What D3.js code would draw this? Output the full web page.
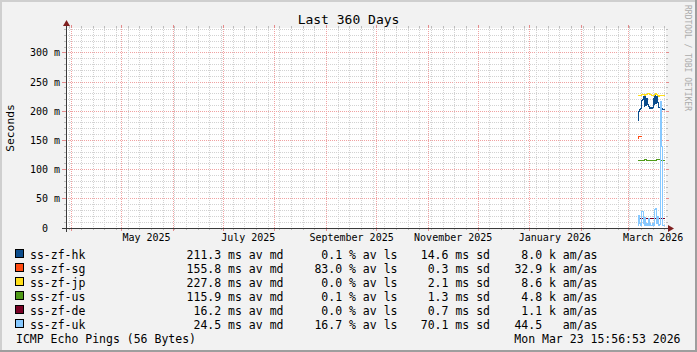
<!DOCTYPE html>
<html><head><meta charset="utf-8">
<script src="https://cdn.jsdelivr.net/npm/d3@7"></script>
<style>
html,body{margin:0;padding:0;background:#F2F2F2;}
svg{display:block;}
text{font-family:"DejaVu Sans Mono",monospace;white-space:pre;}
</style></head><body>
<svg id="c" width="697" height="352" xml:space="preserve"></svg>
<script>
// ---------- data ----------
const title = "Last 360 Days";
const yAxisTitle = "Seconds";
const endLabel = "Mon Mar 23 15:56:53 2026";
const footer = "ICMP Echo Pings (56 Bytes)";
const watermark = "RRDTOOL / TOBI OETIKER";
const timeStart = "2025-03-28T15:56:53Z";
const timeEnd = "2026-03-23T15:56:53Z";
const dataStart = "2026-03-06T12:00:00Z";
const dataStepHours = 12;
const yMax = 342.857;
const yTickValues = [0, 50, 100, 150, 200, 250, 300];
const yTickLabels = ["0  ", "50 m", "100 m", "150 m", "200 m", "250 m", "300 m"];
const xLabelDates = ["2025-05-16", "2025-07-16", "2025-09-16", "2025-11-16", "2026-01-16", "2026-03-16"];
const xLabelTexts = ["May 2025", "July 2025", "September 2025", "November 2025", "January 2026", "March 2026"];

const seriesNames = ["ss-zf-hk", "ss-zf-sg", "ss-zf-jp", "ss-zf-us", "ss-zf-de", "ss-zf-uk"];
const seriesColors = ["#0C4C8C", "#FF4B12", "#FFDF1A", "#4F9A18", "#780024", "#86C8FF"];

const hk = [184,200,203,203,205,218,220,226,208,227,210,222,212,209,206,205,207,205,206,222,212,228,214,226,215,207,209,207,208,204,203,203,203,203];
const sg = [154,156,156,156,156,156,null,null,null,null,null,null,null,null,null,null,null,null,null,null,null,null,null,null,null,null,null,null,null,null,null,null,null,null];
const jp = [227,227,227,227,227,228,228,228,228,227,228,229,231,231,230,229,228,227,227,227,227,229,230,229,227,226,226,227,227,227,227,227,227,227];
const us = [115,115,115,116,115,115,115,115,117,117,117,116,115,115,115,115,116,115,115,115,115,115,116,117,118,118,118,117,116,115,115,115,115,115];
const de = [17,17,17,17,16,16,16,15,15,15,16,16,16,16,16,17,17,16,16,16,16,16,16,16,16,16,17,17,17,16,16,16,16,16];
const uk = [5,22,22,8,5,28,28,8,4,18,4,8,4,17,5,8,4,4,8,4,5,31,34,8,20,5,4,6,216,139,4,5,4,5];

const medianText = ["211.3", "155.8", "227.8", "115.9", "16.2", "24.5"];
const lossText = ["0.1", "83.0", "0.0", "0.1", "0.0", "16.7"];
const sdText = ["14.6", "0.3", "2.1", "1.3", "0.7", "70.1"];
const amasText = ["8.0 k", "32.9 k", "8.6 k", "4.8 k", "1.1 k", "44.5  "];

// ---------- layout ----------
const W = 697, H = 352;
const L = 66, R = 666, T = 28, B = 228;
const svg = d3.select("#c");

const x = d3.scaleUtc().domain([new Date(timeStart), new Date(timeEnd)]).range([L, R]);
const y = d3.scaleLinear().domain([0, yMax]).range([B, T]);
const px = v => Math.floor(v) + 0.5;

// background frame
svg.append("rect").attr("x",0).attr("y",0).attr("width",W).attr("height",H).attr("fill","#F2F2F2");
svg.append("rect").attr("x",0).attr("y",0).attr("width",W).attr("height",2).attr("fill","#CFCFCF");
svg.append("rect").attr("x",0).attr("y",0).attr("width",2).attr("height",H).attr("fill","#CFCFCF");
svg.append("rect").attr("x",0).attr("y",H-2).attr("width",W).attr("height",2).attr("fill","#9E9E9E");
svg.append("rect").attr("x",W-2).attr("y",0).attr("width",2).attr("height",H).attr("fill","#9E9E9E");

// canvas
svg.append("rect").attr("x",L).attr("y",T).attr("width",R-L).attr("height",B-T).attr("fill","#FFFFFF");

const grid = svg.append("g").attr("shape-rendering","crispEdges");
const minorCol = "#D2D2D2", majorCol = "#F0A2A2";
const minorTick = "#BDBDBD", majorTick = "#E58C8C";

// horizontal grid
const minorY = d3.range(10, yMax, 10).filter(v => v % 50 !== 0);
minorY.forEach(v => {
  const yy = px(y(v));
  grid.append("line").attr("x1",L).attr("x2",R+2).attr("y1",yy).attr("y2",yy)
    .attr("stroke",minorCol).attr("stroke-dasharray","1,1");
  grid.append("line").attr("x1",L-2).attr("x2",L).attr("y1",yy).attr("y2",yy).attr("stroke",minorTick);
  grid.append("line").attr("x1",R).attr("x2",R+2).attr("y1",yy).attr("y2",yy).attr("stroke",minorTick);
});
yTickValues.filter(v => v > 0).forEach(v => {
  const yy = px(y(v));
  grid.append("line").attr("x1",L).attr("x2",R+3).attr("y1",yy).attr("y2",yy)
    .attr("stroke",majorCol).attr("stroke-dasharray","1,1");
  grid.append("line").attr("x1",L-4).attr("x2",L).attr("y1",yy).attr("y2",yy).attr("stroke",majorTick);
  grid.append("line").attr("x1",R).attr("x2",R+3).attr("y1",yy).attr("y2",yy).attr("stroke",majorTick);
});

// vertical grid
const months = d3.utcMonth.range(x.domain()[0], x.domain()[1]);
const monthSet = new Set(months.map(d => +d));
const weeks = d3.utcMonday.range(x.domain()[0], x.domain()[1]).filter(d => !monthSet.has(+d));
weeks.forEach(d => {
  const xx = px(x(d));
  grid.append("line").attr("x1",xx).attr("x2",xx).attr("y1",T-2).attr("y2",B)
    .attr("stroke",minorCol).attr("stroke-dasharray","1,1");
  grid.append("line").attr("x1",xx).attr("x2",xx).attr("y1",B).attr("y2",B+2).attr("stroke",minorTick);
  grid.append("line").attr("x1",xx).attr("x2",xx).attr("y1",T-2).attr("y2",T).attr("stroke",minorTick);
});
months.forEach(d => {
  const xx = px(x(d));
  grid.append("line").attr("x1",xx).attr("x2",xx).attr("y1",T-3).attr("y2",B)
    .attr("stroke",majorCol).attr("stroke-dasharray","1,1");
  grid.append("line").attr("x1",xx).attr("x2",xx).attr("y1",B).attr("y2",B+3).attr("stroke",majorTick);
  grid.append("line").attr("x1",xx).attr("x2",xx).attr("y1",T-3).attr("y2",T).attr("stroke",majorTick);
});

// series
const t0 = new Date(dataStart).getTime();
const allSeries = [hk, sg, jp, us, de, uk];
const line = d3.line()
  .defined(d => d.v != null)
  .x(d => px(x(d.t)))
  .y(d => px(y(d.v)))
  .curve(d3.curveStepAfter);
allSeries.forEach((vals, i) => {
  const pts = vals.map((v, k) => ({t: new Date(t0 + k * dataStepHours * 3600e3), v}));
  svg.append("path").attr("d", line(pts)).attr("fill","none")
    .attr("stroke", seriesColors[i]).attr("stroke-width",1)
    .attr("shape-rendering","crispEdges");
});

// axes
const axisCol = "#3A3A3A", arrowCol = "#7F1F1F";
svg.append("line").attr("x1",L-4).attr("x2",R+4).attr("y1",B+0.5).attr("y2",B+0.5)
  .attr("stroke",axisCol).attr("shape-rendering","crispEdges");
svg.append("line").attr("x1",L+0.5).attr("x2",L+0.5).attr("y1",B+4).attr("y2",T-4)
  .attr("stroke",axisCol).attr("shape-rendering","crispEdges");
svg.append("path").attr("d",`M${R+2},${B-3}L${R+8},${B+0.5}L${R+2},${B+4}Z`).attr("fill",arrowCol);
svg.append("path").attr("d",`M${L-3},${T-2}L${L+0.5},${T-8}L${L+4},${T-2}Z`).attr("fill",arrowCol);

// y labels
svg.append("g").selectAll("text").data(yTickValues).join("text")
  .attr("x", L - 6).attr("y", v => px(y(v)) + 3.3)
  .attr("text-anchor","end").attr("font-size","10px").attr("fill","#000")
  .text((v, i) => yTickLabels[i]);

// x labels
svg.append("g").selectAll("text").data(xLabelDates).join("text")
  .attr("x", d => x(new Date(d + "T00:00:00Z"))).attr("y", 240.7)
  .attr("text-anchor","middle").attr("font-size","10px").attr("fill","#000")
  .text((d, i) => xLabelTexts[i]);

// title
svg.append("text").attr("x", W/2).attr("y", 24).attr("text-anchor","middle")
  .attr("font-size","13px").attr("fill","#000").text(title);

// y-axis title
svg.append("text").attr("transform", `translate(14,${(T+B)/2}) rotate(-90)`)
  .attr("text-anchor","middle").attr("font-size","11.3px").attr("fill","#000").text(yAxisTitle);

// watermark
svg.append("text").attr("transform", "translate(685,5) rotate(90)")
  .attr("text-anchor","start").attr("font-size","8px").attr("fill","#ABABAB").text(watermark);

// legend
const lg = svg.append("g").attr("font-size","11.5px").attr("fill","#000");
seriesNames.forEach((name, i) => {
  const by = 258.5 + i * 14;
  lg.append("rect").attr("x",15.5).attr("y",by - 9).attr("width",8).attr("height",8)
    .attr("fill",seriesColors[i]).attr("stroke","#000").attr("stroke-width",1);
  lg.append("text").attr("x",30).attr("y",by).text(name);
  lg.append("text").attr("x",283.5).attr("y",by).attr("text-anchor","end").text(medianText[i] + " ms av md");
  lg.append("text").attr("x",397.5).attr("y",by).attr("text-anchor","end").text(lossText[i] + " % av ls");
  lg.append("text").attr("x",490).attr("y",by).attr("text-anchor","end").text(sdText[i] + " ms sd");
  lg.append("text").attr("x",597.5).attr("y",by).attr("text-anchor","end").text(amasText[i] + " am/as");
});
lg.append("text").attr("x",16).attr("y",342.5).text(footer);
lg.append("text").attr("x",680.5).attr("y",342.5).attr("text-anchor","end").text(endLabel);
</script>
</body></html>
